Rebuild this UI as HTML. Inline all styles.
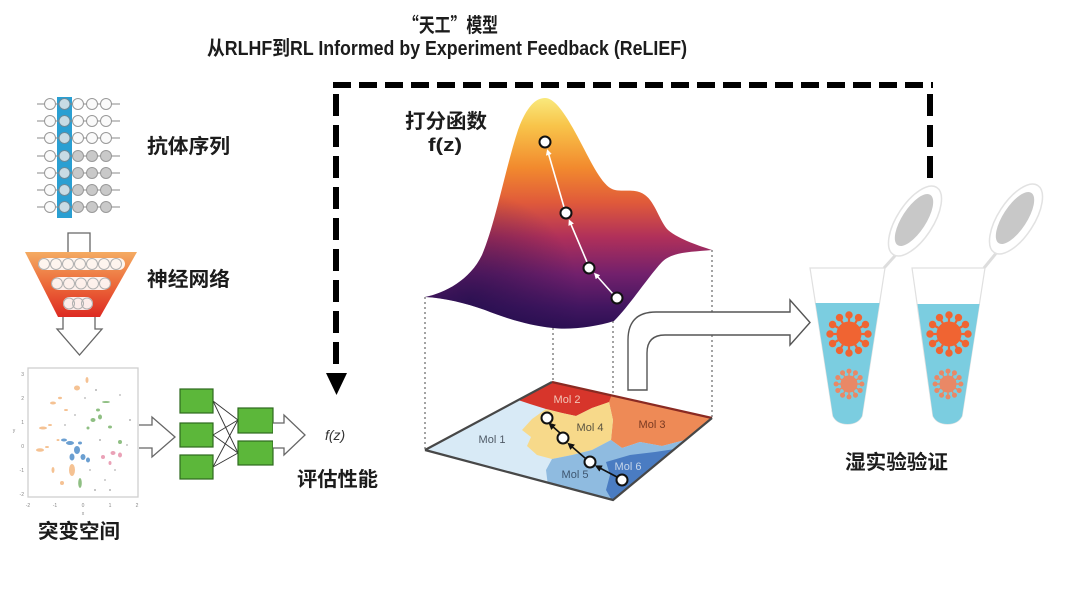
<!DOCTYPE html>
<html><head><meta charset="utf-8"><style>
html,body{margin:0;padding:0;background:#fff;}
svg{display:block;}
.cn{font-family:"Liberation Sans","Noto Sans CJK SC",sans-serif;font-weight:bold;fill:#1c1c1c;}
</style></head><body>
<svg width="1080" height="593" viewBox="0 0 1080 593" xmlns="http://www.w3.org/2000/svg">
<defs>
<linearGradient id="surf" x1="0" y1="98" x2="0" y2="330" gradientUnits="userSpaceOnUse">
<stop offset="0" stop-color="#f9e97c"/>
<stop offset="0.12" stop-color="#f8c44a"/>
<stop offset="0.3" stop-color="#f28a2e"/>
<stop offset="0.45" stop-color="#e05a3a"/>
<stop offset="0.6" stop-color="#b0305a"/>
<stop offset="0.76" stop-color="#72206c"/>
<stop offset="0.9" stop-color="#421660"/>
<stop offset="1" stop-color="#2a0f52"/>
</linearGradient>
<radialGradient id="dark" cx="470" cy="300" r="110" gradientUnits="userSpaceOnUse">
<stop offset="0" stop-color="#1a0c48" stop-opacity="0.6"/>
<stop offset="1" stop-color="#1a0c48" stop-opacity="0"/>
</radialGradient>
<linearGradient id="fun" x1="0" y1="252" x2="0" y2="317" gradientUnits="userSpaceOnUse">
<stop offset="0" stop-color="#f4ab62"/>
<stop offset="0.5" stop-color="#ec6a3a"/>
<stop offset="1" stop-color="#dd2a22"/>
</linearGradient>
<clipPath id="mapclip"><polygon points="425,450 552,382 712,418 613,500"/></clipPath>
<marker id="wa" markerWidth="6" markerHeight="6" refX="3" refY="3" orient="auto" markerUnits="userSpaceOnUse"><path d="M0,0 L6,3 L0,6 Z" fill="#fff"/></marker>
<marker id="ba" markerWidth="7" markerHeight="7" refX="3.5" refY="3.5" orient="auto" markerUnits="userSpaceOnUse"><path d="M0,0 L7,3.5 L0,7 Z" fill="#111"/></marker>
<g id="vir">
<circle r="12"/>
<g stroke-width="2.2">
<g transform="rotate(0)"><line x1="0" y1="-10" x2="0" y2="-19"/><circle cy="-19" r="2.6"/></g>
<g transform="rotate(30)"><line x1="0" y1="-10" x2="0" y2="-19"/><circle cy="-19" r="2.6"/></g>
<g transform="rotate(60)"><line x1="0" y1="-10" x2="0" y2="-19"/><circle cy="-19" r="2.6"/></g>
<g transform="rotate(90)"><line x1="0" y1="-10" x2="0" y2="-19"/><circle cy="-19" r="2.6"/></g>
<g transform="rotate(120)"><line x1="0" y1="-10" x2="0" y2="-19"/><circle cy="-19" r="2.6"/></g>
<g transform="rotate(150)"><line x1="0" y1="-10" x2="0" y2="-19"/><circle cy="-19" r="2.6"/></g>
<g transform="rotate(180)"><line x1="0" y1="-10" x2="0" y2="-19"/><circle cy="-19" r="2.6"/></g>
<g transform="rotate(210)"><line x1="0" y1="-10" x2="0" y2="-19"/><circle cy="-19" r="2.6"/></g>
<g transform="rotate(240)"><line x1="0" y1="-10" x2="0" y2="-19"/><circle cy="-19" r="2.6"/></g>
<g transform="rotate(270)"><line x1="0" y1="-10" x2="0" y2="-19"/><circle cy="-19" r="2.6"/></g>
<g transform="rotate(300)"><line x1="0" y1="-10" x2="0" y2="-19"/><circle cy="-19" r="2.6"/></g>
<g transform="rotate(330)"><line x1="0" y1="-10" x2="0" y2="-19"/><circle cy="-19" r="2.6"/></g>
</g>
</g>
</defs>

<!-- Titles -->
<text x="403" y="32" textLength="95" lengthAdjust="spacingAndGlyphs" style="font-family:'Noto Sans CJK SC','Liberation Sans',sans-serif;font-weight:bold;font-size:20px;fill:#1c1c1c">“天工”模型</text>
<text x="207" y="55" textLength="480" lengthAdjust="spacingAndGlyphs" class="cn" style="font-size:20px">从RLHF到RL Informed by Experiment Feedback (ReLIEF)</text>

<!-- Dashed feedback loop -->
<g stroke="#000" stroke-width="6" fill="none">
<line x1="333" y1="85" x2="933" y2="85" stroke-dasharray="18 8"/>
<line x1="336" y1="94" x2="336" y2="374" stroke-dasharray="22 9"/>
<line x1="930" y1="94" x2="930" y2="178" stroke-dasharray="22 9"/>
</g>
<polygon points="326,373 347,373 336.5,395" fill="#000"/>

<!-- Antibody sequence grid -->
<rect x="57" y="97" width="15" height="121" fill="#2a9fd2"/>
<g stroke="#8a8a8a" stroke-width="1">
<line x1="37" y1="104" x2="120" y2="104"/><line x1="37" y1="121" x2="120" y2="121"/>
<line x1="37" y1="138" x2="120" y2="138"/><line x1="37" y1="156" x2="120" y2="156"/>
<line x1="37" y1="173" x2="120" y2="173"/><line x1="37" y1="190" x2="120" y2="190"/>
<line x1="37" y1="207" x2="120" y2="207"/>
</g>
<g stroke="#999" stroke-width="1">
<g fill="#fafafa">
<circle cx="50" cy="104" r="5.5"/><circle cx="78" cy="104" r="5.5"/><circle cx="92" cy="104" r="5.5"/><circle cx="106" cy="104" r="5.5"/>
<circle cx="50" cy="121" r="5.5"/><circle cx="78" cy="121" r="5.5"/><circle cx="92" cy="121" r="5.5"/><circle cx="106" cy="121" r="5.5"/>
<circle cx="50" cy="138" r="5.5"/><circle cx="78" cy="138" r="5.5"/><circle cx="92" cy="138" r="5.5"/><circle cx="106" cy="138" r="5.5"/>
<circle cx="50" cy="156" r="5.5"/><circle cx="50" cy="173" r="5.5"/><circle cx="50" cy="190" r="5.5"/><circle cx="50" cy="207" r="5.5"/>
</g>
<g fill="#c9c9c9">
<circle cx="78" cy="156" r="5.5"/><circle cx="92" cy="156" r="5.5"/><circle cx="106" cy="156" r="5.5"/>
<circle cx="78" cy="173" r="5.5"/><circle cx="92" cy="173" r="5.5"/><circle cx="106" cy="173" r="5.5"/>
<circle cx="78" cy="190" r="5.5"/><circle cx="92" cy="190" r="5.5"/><circle cx="106" cy="190" r="5.5"/>
<circle cx="78" cy="207" r="5.5"/><circle cx="92" cy="207" r="5.5"/><circle cx="106" cy="207" r="5.5"/>
</g>
<g fill="#c8dbe4" stroke="#6a8a9a">
<circle cx="64.5" cy="104" r="5.5"/><circle cx="64.5" cy="121" r="5.5"/><circle cx="64.5" cy="138" r="5.5"/><circle cx="64.5" cy="156" r="5.5"/>
<circle cx="64.5" cy="173" r="5.5"/><circle cx="64.5" cy="190" r="5.5"/><circle cx="64.5" cy="207" r="5.5"/>
</g>
</g>
<text x="147" y="147" dominant-baseline="central" textLength="83" lengthAdjust="spacingAndGlyphs" class="cn" style="font-size:20px">抗体序列</text>

<!-- Neural network funnel -->
<path d="M68,252 L68,233 L90,233 L90,252" fill="#fff" stroke="#666" stroke-width="1.3"/>
<polygon points="25,252 137,252 100,317 58,317" fill="url(#fun)"/>
<rect x="38" y="258" width="87" height="12" rx="6" fill="#fff" opacity="0.9"/>
<rect x="52" y="277" width="58" height="13" rx="6.5" fill="#fff" opacity="0.9"/>
<rect x="63" y="297" width="30" height="13" rx="6.5" fill="#fff" opacity="0.9"/>
<g fill="none" stroke="#b0b0b0" stroke-width="1">
<circle cx="44" cy="264" r="5.5"/><circle cx="56" cy="264" r="5.5"/><circle cx="68" cy="264" r="5.5"/><circle cx="80" cy="264" r="5.5"/><circle cx="92" cy="264" r="5.5"/><circle cx="104" cy="264" r="5.5"/><circle cx="116" cy="264" r="5.5"/>
<circle cx="57" cy="283.5" r="5.5"/><circle cx="69" cy="283.5" r="5.5"/><circle cx="81" cy="283.5" r="5.5"/><circle cx="93" cy="283.5" r="5.5"/><circle cx="105" cy="283.5" r="5.5"/>
<circle cx="69" cy="303.5" r="5.5"/><circle cx="78" cy="303.5" r="5.5"/><circle cx="87" cy="303.5" r="5.5"/>
</g>
<path d="M63,317 L63,329 L57,329 L79.5,355 L102,329 L95,329 L95,317" fill="#fff" stroke="#666" stroke-width="1.3"/>
<text x="147" y="280" dominant-baseline="central" textLength="83" lengthAdjust="spacingAndGlyphs" class="cn" style="font-size:20px">神经网络</text>

<!-- Scatter plot -->
<rect x="28" y="368" width="110" height="129" fill="#fff" stroke="#cfcfcf" stroke-width="1.3"/>
<g font-family="Liberation Sans, sans-serif" font-size="5" fill="#888">
<text x="28" y="507" text-anchor="middle">-2</text><text x="55" y="507" text-anchor="middle">-1</text><text x="83" y="507" text-anchor="middle">0</text><text x="110" y="507" text-anchor="middle">1</text><text x="137" y="507" text-anchor="middle">2</text>
<text x="24" y="376" text-anchor="end">3</text><text x="24" y="400" text-anchor="end">2</text><text x="24" y="424" text-anchor="end">1</text><text x="24" y="448" text-anchor="end">0</text><text x="24" y="472" text-anchor="end">-1</text><text x="24" y="496" text-anchor="end">-2</text>
<text x="83" y="515" text-anchor="middle">x</text><text x="14" y="432" text-anchor="middle">y</text>
</g>
<g opacity="0.75">
<g fill="#f2ae70">
<ellipse cx="77" cy="388" rx="3" ry="2.5"/><ellipse cx="87" cy="380" rx="1.5" ry="3"/><ellipse cx="53" cy="403" rx="3" ry="1.5"/><ellipse cx="60" cy="398" rx="2" ry="1.2"/>
<ellipse cx="43" cy="428" rx="4" ry="1.5"/><ellipse cx="50" cy="425" rx="2" ry="1"/><ellipse cx="40" cy="450" rx="4" ry="1.8"/><ellipse cx="47" cy="447" rx="2" ry="1"/>
<ellipse cx="53" cy="470" rx="1.5" ry="3"/><ellipse cx="62" cy="483" rx="2" ry="2"/><ellipse cx="72" cy="470" rx="3" ry="6"/><ellipse cx="66" cy="410" rx="2" ry="1"/>
<ellipse cx="58" cy="440" rx="1.5" ry="1"/>
</g>
<g fill="#3a7fc2">
<ellipse cx="70" cy="443" rx="4" ry="2"/><ellipse cx="77" cy="450" rx="3" ry="4"/><ellipse cx="83" cy="457" rx="2.5" ry="3"/><ellipse cx="72" cy="457" rx="2.5" ry="3.5"/>
<ellipse cx="64" cy="440" rx="3" ry="1.5"/><ellipse cx="88" cy="460" rx="2" ry="2.5"/><ellipse cx="80" cy="443" rx="2" ry="1.5"/>
</g>
<g fill="#6aaa5a">
<ellipse cx="93" cy="420" rx="2.5" ry="2"/><ellipse cx="100" cy="417" rx="2" ry="2.5"/><ellipse cx="110" cy="427" rx="2" ry="1.5"/><ellipse cx="120" cy="442" rx="2" ry="2"/>
<ellipse cx="80" cy="483" rx="1.8" ry="5"/><ellipse cx="98" cy="410" rx="2" ry="1.5"/><ellipse cx="106" cy="402" rx="4" ry="1"/><ellipse cx="88" cy="428" rx="1.5" ry="1.5"/>
</g>
<g fill="#e483a0">
<ellipse cx="103" cy="457" rx="2" ry="2"/><ellipse cx="113" cy="453" rx="2.5" ry="2"/><ellipse cx="120" cy="455" rx="2" ry="2.5"/><ellipse cx="110" cy="463" rx="1.5" ry="2"/>
</g>
<g fill="#9a9a9a">
<circle cx="96" cy="390" r="1"/><circle cx="85" cy="398" r="0.9"/><circle cx="130" cy="420" r="1"/><circle cx="127" cy="445" r="0.9"/><circle cx="95" cy="490" r="1"/>
<circle cx="110" cy="490" r="1"/><circle cx="90" cy="470" r="0.9"/><circle cx="100" cy="440" r="1"/><circle cx="115" cy="470" r="0.9"/><circle cx="65" cy="425" r="0.9"/>
<circle cx="75" cy="415" r="0.9"/><circle cx="105" cy="480" r="0.9"/><circle cx="120" cy="395" r="0.9"/>
</g>
</g>
<text x="38" y="532" dominant-baseline="central" textLength="82" lengthAdjust="spacingAndGlyphs" class="cn" style="font-size:20px">突变空间</text>

<!-- Arrow scatter -> green -->
<path d="M139,425 L152,425 L152,417 L175,437 L152,457 L152,448 L139,448" fill="#fff" stroke="#666" stroke-width="1.3"/>

<!-- Green network -->
<g stroke="#333" stroke-width="0.9">
<line x1="213" y1="401" x2="238" y2="420"/><line x1="213" y1="401" x2="238" y2="453"/>
<line x1="213" y1="435" x2="238" y2="420"/><line x1="213" y1="435" x2="238" y2="453"/>
<line x1="213" y1="467" x2="238" y2="420"/><line x1="213" y1="467" x2="238" y2="453"/>
</g>
<g fill="#5cb73a" stroke="#2e6a1e" stroke-width="1.2">
<rect x="180" y="389" width="33" height="24"/><rect x="180" y="423" width="33" height="24"/><rect x="180" y="455" width="33" height="24"/>
<rect x="238" y="408" width="35" height="25"/><rect x="238" y="441" width="35" height="24"/>
</g>
<path d="M273,423 L284,423 L284,415 L305,435 L284,455 L284,448 L273,448" fill="#fff" stroke="#666" stroke-width="1.3"/>
<text x="325" y="440" style="font-family:'Liberation Sans',sans-serif;font-style:italic;font-size:14px;fill:#333">f(z)</text>
<text x="297" y="480" dominant-baseline="central" textLength="81" lengthAdjust="spacingAndGlyphs" class="cn" style="font-size:20px">评估性能</text>

<!-- Score function label -->
<text x="405" y="122" dominant-baseline="central" textLength="82" lengthAdjust="spacingAndGlyphs" class="cn" style="font-size:20px">打分函数</text>
<text x="428" y="145" dominant-baseline="central" textLength="34" lengthAdjust="spacingAndGlyphs" class="cn" style="font-size:18px">f(z)</text>

<!-- Dotted verticals -->
<g stroke="#666" stroke-width="1.2" stroke-dasharray="2 3">
<line x1="425" y1="297" x2="425" y2="450"/>
<line x1="553" y1="328" x2="553" y2="382"/>
<line x1="613" y1="321" x2="613" y2="500"/>
<line x1="712" y1="250" x2="712" y2="418"/>
</g>

<!-- Surface -->
<path d="M425,297 C445,293 470,280 482,255 C495,225 505,170 518,130 C526,108 535,98 545,98 C556,98 568,118 582,145 C594,168 604,188 615,190 C625,192 635,188 645,195 C655,202 660,222 668,230 C680,240 700,246 712,250 C690,252 672,252 662,262 C648,277 630,305 614,321 C595,327 570,330 553,328 C530,326 505,318 485,310 C465,303 445,298 425,297 Z" fill="url(#surf)"/>
<path d="M425,297 C445,293 470,280 482,255 C495,225 505,170 518,130 C526,108 535,98 545,98 C556,98 568,118 582,145 C594,168 604,188 615,190 C625,192 635,188 645,195 C655,202 660,222 668,230 C680,240 700,246 712,250 C690,252 672,252 662,262 C648,277 630,305 614,321 C595,327 570,330 553,328 C530,326 505,318 485,310 C465,303 445,298 425,297 Z" fill="url(#dark)"/>
<g stroke="#fff" stroke-width="1.6" fill="none">
<line x1="613" y1="294" x2="596" y2="275" marker-end="url(#wa)"/>
<line x1="587" y1="262" x2="570" y2="222" marker-end="url(#wa)"/>
<line x1="564" y1="207" x2="548" y2="152" marker-end="url(#wa)"/>
</g>
<g fill="#fff" stroke="#111" stroke-width="2">
<circle cx="545" cy="142" r="5.5"/><circle cx="566" cy="213" r="5.5"/><circle cx="589" cy="268" r="5.5"/><circle cx="617" cy="298" r="5.5"/>
</g>

<!-- Map -->
<g clip-path="url(#mapclip)">
<polygon points="425,450 552,382 712,418 613,500" fill="#d8eaf6"/>
<polygon points="515,390 552,382 614,394 610,402 592,408 576,416 562,413 546,409 530,404 518,400" fill="#d7352b"/>
<polygon points="612,394 720,416 685,440 662,446 640,442 622,448 611,440 613,420 609,402" fill="#ee8a56"/>
<polygon points="532,419 546,409 562,413 576,416 592,408 609,402 613,420 611,440 592,450 572,455 552,459 537,455 527,446 531,437 522,430" fill="#f7d98a"/>
<polygon points="552,459 572,455 592,450 611,440 622,448 640,442 662,446 685,440 613,502 548,486 546,470" fill="#8fbbe0"/>
<polygon points="606,462 630,455 655,452 675,449 613,502 606,490 610,475" fill="#4a7cc2"/>
</g>
<g fill="none" stroke-width="2.2">
<polyline points="425,450 552,382" stroke="#474747"/>
<polyline points="552,382 712,418" stroke="#8a2a22"/>
<polyline points="712,418 613,500 425,450" stroke="#474747"/>
</g>
<g font-family="Liberation Sans, sans-serif" font-size="11" text-anchor="middle" dominant-baseline="central">
<text x="567" y="400" fill="#f2c6b8">Mol 2</text>
<text x="652" y="425" fill="#7a3a22">Mol 3</text>
<text x="492" y="440" fill="#4f5a66">Mol 1</text>
<text x="590" y="428" fill="#5a5340">Mol 4</text>
<text x="575" y="475" fill="#3e5670">Mol 5</text>
<text x="628" y="467" fill="#c6d6ea">Mol 6</text>
</g>
<g stroke="#111" stroke-width="1.6">
<line x1="617" y1="477" x2="598" y2="467" marker-end="url(#ba)"/>
<line x1="585" y1="458" x2="570" y2="445" marker-end="url(#ba)"/>
<line x1="560" y1="433" x2="551" y2="425" marker-end="url(#ba)"/>
</g>
<g fill="#fff" stroke="#111" stroke-width="2">
<circle cx="547" cy="418" r="5.5"/><circle cx="563" cy="438" r="5.5"/><circle cx="590" cy="462" r="5.5"/><circle cx="622" cy="480" r="5.5"/>
</g>

<!-- Bent arrow -->
<path d="M628,390 L628,340 Q628,312 656,312 L790,312 L790,300 L810,322.5 L790,345 L790,335 L665,335 Q647,335 647,353 L647,390 Z" fill="#fff" stroke="#555" stroke-width="1.4"/>

<!-- Tubes -->
<g>
<line x1="884" y1="268" x2="902" y2="248" stroke="#ddd" stroke-width="3"/>
<ellipse cx="915" cy="221" rx="18" ry="40" transform="rotate(33 915 221)" fill="#fff" stroke="#e2e2e2" stroke-width="1.5"/>
<ellipse cx="914" cy="220" rx="12" ry="30" transform="rotate(33 914 220)" fill="#c8c8c8"/>
<path d="M810,268 L885,268 L862,416 Q858,424 847.5,424 Q837,424 833,416 Z" fill="#fff" stroke="#e0e0e0" stroke-width="1.2"/>
<path d="M815.5,303 L879.5,303 L862,416 Q858,424 847.5,424 Q837,424 833,416 Z" fill="#7bcde0"/>
<use href="#vir" x="849" y="334" fill="#f06432" stroke="#f06432"/>
<use href="#vir" transform="translate(849 384) scale(0.68)" fill="#e98866" stroke="#e98866"/>
</g>
<g>
<line x1="984" y1="268" x2="1002" y2="246" stroke="#ddd" stroke-width="3"/>
<ellipse cx="1016" cy="219" rx="18" ry="40" transform="rotate(33 1016 219)" fill="#fff" stroke="#e2e2e2" stroke-width="1.5"/>
<ellipse cx="1015" cy="218" rx="12" ry="30" transform="rotate(33 1015 218)" fill="#c8c8c8"/>
<path d="M912,268 L985,268 L962,416 Q958,424 947.5,424 Q937,424 933,416 Z" fill="#fff" stroke="#e0e0e0" stroke-width="1.2"/>
<path d="M917.5,304 L979.5,304 L962,416 Q958,424 947.5,424 Q937,424 933,416 Z" fill="#7bcde0"/>
<use href="#vir" x="949" y="334" fill="#f06432" stroke="#f06432"/>
<use href="#vir" transform="translate(948 384) scale(0.68)" fill="#e98866" stroke="#e98866"/>
</g>
<text x="845" y="463" dominant-baseline="central" textLength="103" lengthAdjust="spacingAndGlyphs" class="cn" style="font-size:20px">湿实验验证</text>
</svg>
</body></html>
